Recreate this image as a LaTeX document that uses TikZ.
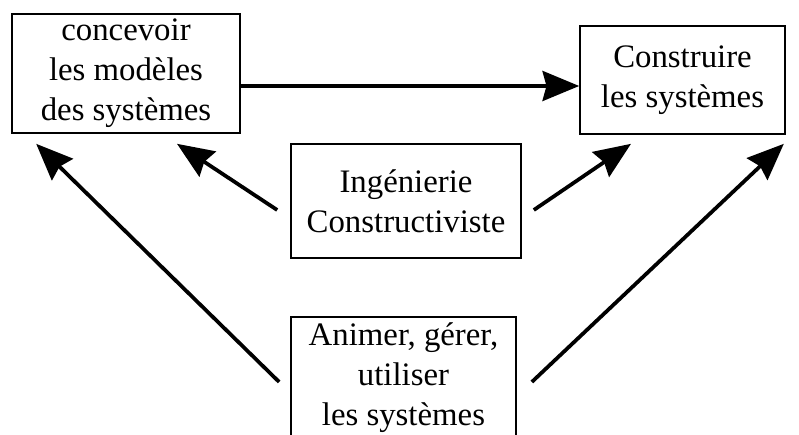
\documentclass[tikz,border=0pt]{standalone}
\usepackage{fontspec}
\setmainfont{Liberation Serif}
\usetikzlibrary{arrows.meta}

\begin{document}
\begin{tikzpicture}[
        x=1cm,
        y=1cm,
        task box/.style={
            draw,line width=1.4pt,align=center,inner sep=0pt,
            font=\fontsize{28}{34}\selectfont
        },
        big arrow/.style={
            line width=3.2pt,
            -{Stealth[length=11mm,width=9mm,inset=1.2mm]}
        }
    ]
        % Fixed frame with the proportions of the page.
        \useasboundingbox (0,0) rectangle (23.97,13.02);

        % The two activities on top.
        \node[task box,minimum width=6.84cm,minimum height=3.57cm]
            (concevoir) at (3.78,10.815)
            {concevoir\\les modèles\\des systèmes};
        \node[task box,minimum width=6.15cm,minimum height=3.24cm]
            (construire) at (20.475,10.62)
            {Construire\\les systèmes};

        % The two sources in the middle and below.
        \node[task box,minimum width=6.9cm,minimum height=3.42cm]
            (ingenierie) at (12.18,6.99)
            {Ingénierie\\Constructiviste};
        \node[task box,minimum width=6.75cm,minimum height=3.63cm]
            (animer) at (12.105,1.695)
            {Animer, gérer,\\utiliser\\les systèmes};

        % From the models to the systems.
        \coordinate (modelout) at ([yshift=-0.375cm]concevoir.east);
        \draw[big arrow] (modelout) -- (modelout -| construire.west);

        % Arrows from the middle box.
        \draw[big arrow]
            ([xshift=-0.39cm,yshift=-0.27cm]ingenierie.west)
            -- ([xshift=1.53cm,yshift=-0.3cm]concevoir.south);
        \draw[big arrow]
            ([xshift=0.36cm,yshift=-0.27cm]ingenierie.east)
            -- ([xshift=-1.545cm,yshift=-0.27cm]construire.south);

        % Arrows from the bottom box.
        \draw[big arrow]
            ([xshift=-0.33cm,yshift=-0.135cm]animer.west)
            -- ([xshift=0.75cm,yshift=-0.3cm]concevoir.south west);
        \draw[big arrow]
            ([xshift=0.45cm,yshift=-0.135cm]animer.east)
            -- ([xshift=-0.06cm,yshift=-0.27cm]construire.south east);
    \end{tikzpicture}
\end{document}
